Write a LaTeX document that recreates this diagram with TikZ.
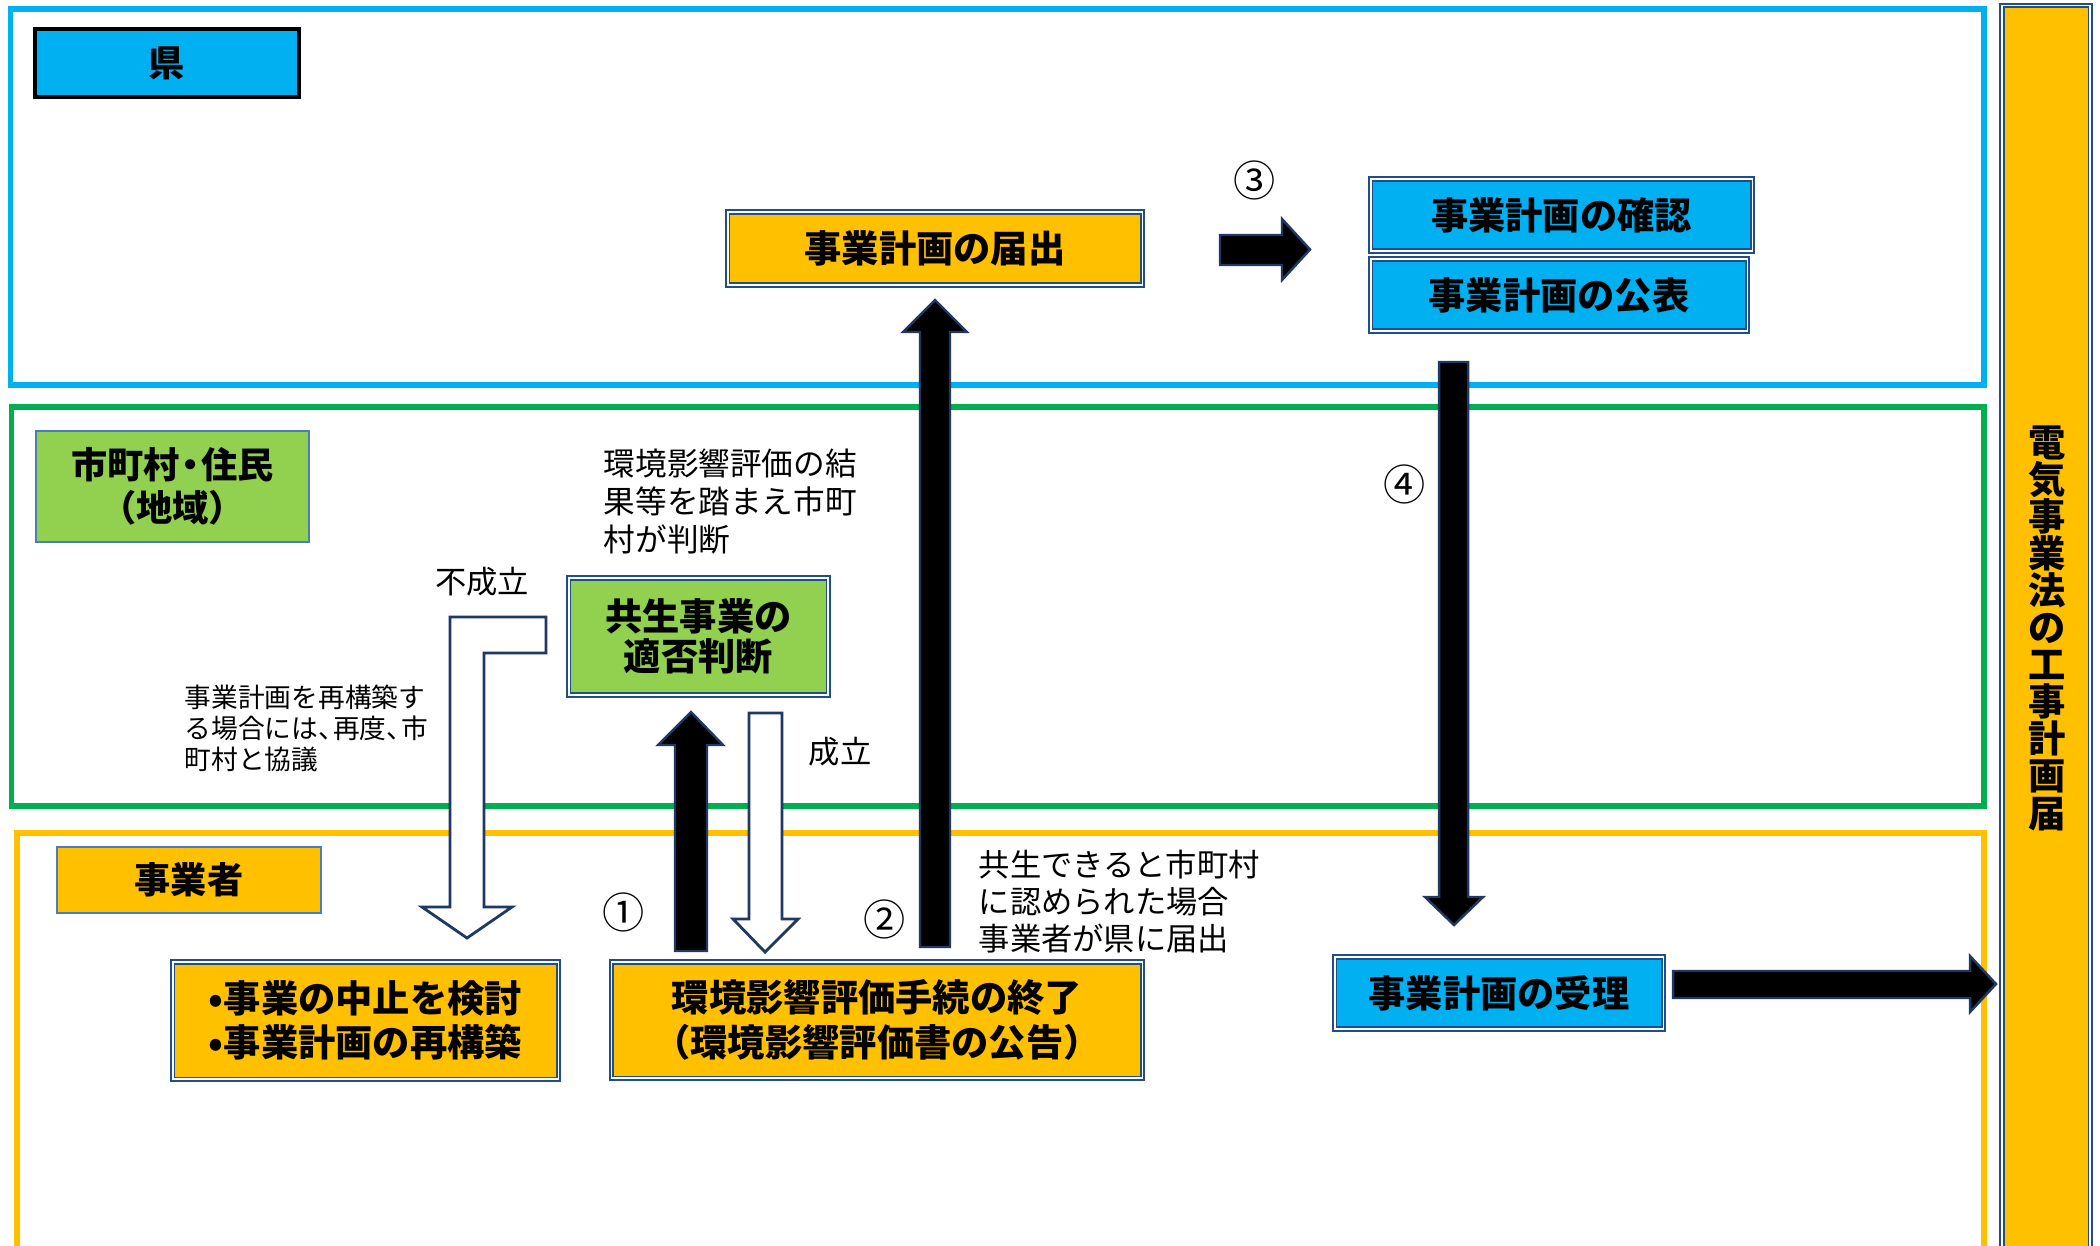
\documentclass[tikz,border=0pt]{standalone}
\usepackage{fontspec}
\setmainfont{Noto Sans CJK JP}
\newcommand\jfs[2]{\fontsize{#1}{#2}\selectfont}
\newcommand\nar[1]{\makebox[0.55em][l]{#1}}
\newcommand\narc[1]{\makebox[0.6em][c]{#1}}
\definecolor{cyanB}{HTML}{00B0F0}
\definecolor{orangeB}{HTML}{FFC000}
\definecolor{greenF}{HTML}{92D050}
\definecolor{greenL}{HTML}{00B050}
\definecolor{bdr}{HTML}{1F4E89}
\definecolor{navy}{HTML}{1F3864}
\definecolor{lblbdr}{HTML}{4A7EBB}
\begin{document}
\begin{tikzpicture}[x=0.01cm,y=-0.01cm,
  dbox/.style={draw=bdr, double=white, double distance=0.35pt, line width=0.55pt,
    inner sep=0pt, align=center, font=\bfseries\jfs{10.6}{13}},
  lbl/.style={draw=lblbdr, line width=0.6pt, inner sep=0pt, align=center,
    font=\bfseries\jfs{10.3}{12.2}},
  blk/.style={fill=black, draw=navy, line width=0.7pt, line join=miter},
  wht/.style={fill=white, draw=navy, line width=0.8pt, line join=miter},
  note/.style={inner sep=0pt, align=left},
  num/.style={inner sep=0pt, font=\jfs{12}{13}},
  frame/.style={line width=1.45pt}]
\path[use as bounding box] (0,0) rectangle (2100,1245);
\clip (0,0) rectangle (2100,1245);
\fill[white] (0,0) rectangle (2100,1245);

% lane frames
\draw[frame, draw=cyanB] (10.5,9) rectangle (1984,385);
\draw[frame, draw=greenL] (11.5,407) rectangle (1984,806);
\draw[frame, draw=orangeB] (17,833) rectangle (1984,1300);

% right vertical box
\node[dbox, fill=orangeB, minimum width=0.88cm, minimum height=12.6cm] (denki) at (2046,636) {};
\node[inner sep=0pt, align=center, font=\bfseries\jfs{10.6}{10.55}] (denkitxt) at (2047,628)
  {電\\気\\事\\業\\法\\の\\工\\事\\計\\画\\届};

% lane labels
\node[draw=black, line width=0.9pt, fill=cyanB, minimum width=2.64cm, minimum height=0.68cm,
  inner sep=0pt, font=\bfseries\jfs{10.3}{11}] (ken) at (167,63) {県};
\node[lbl, fill=greenF, minimum width=2.73cm, minimum height=1.11cm] (shi) at (172.5,486.5)
  {市町村\narc{・}住民\\（地域）};
\node[lbl, fill=orangeB, minimum width=2.64cm, minimum height=0.66cm] (jig) at (189,880) {事業者};

% process boxes
\node[dbox, fill=orangeB, minimum width=4.14cm, minimum height=0.73cm] (todoke) at (935,248.5) {事業計画の届出};
\node[dbox, fill=cyanB, minimum width=3.81cm, minimum height=0.72cm] (kakunin) at (1561.5,215) {事業計画の確認};
\node[dbox, fill=cyanB, minimum width=3.76cm, minimum height=0.72cm] (kohyo) at (1559,295) {事業計画の公表};
\node[dbox, fill=greenF, minimum width=2.59cm, minimum height=1.17cm, font=\bfseries\jfs{10.6}{11.4}] (kyosei) at (698.5,636.5) {共生事業の\\適否判断};
\node[dbox, fill=orangeB, minimum width=5.30cm, minimum height=1.16cm, font=\bfseries\jfs{10.6}{12.8}] (kankyo) at (877,1020) {環境影響評価手続の終了\\（環境影響評価書の公告）};
\node[dbox, fill=orangeB, minimum width=3.85cm, minimum height=1.17cm, align=left, font=\bfseries\jfs{10.6}{12.5}] (chushi) at (365.5,1020.5) {•事業の中止を検討\\•事業計画の再構築};
\node[dbox, fill=cyanB, minimum width=3.28cm, minimum height=0.72cm] (juri) at (1499,993) {事業計画の受理};

% block arrows
\draw[blk] (675,951) -- (675,745) -- (658,745) -- (691,712) -- (723,745) -- (707,745) -- (707,951) -- cycle;
\draw[wht] (749,713) -- (782,713) -- (782,919) -- (798,919) -- (765,952) -- (733,919) -- (749,919) -- cycle;
\draw[blk] (920,947) -- (920,332) -- (903,332) -- (935,300) -- (967,332) -- (950,332) -- (950,947) -- cycle;
\draw[blk] (1220,235) -- (1282,235) -- (1282,219) -- (1310,249.5) -- (1282,280) -- (1282,265) -- (1220,265) -- cycle;
\draw[blk] (1439,362) -- (1468,362) -- (1468,897) -- (1483,897) -- (1454,925) -- (1425,897) -- (1439,897) -- cycle;
\draw[blk] (1673,971) -- (1970,971) -- (1970,956) -- (1996,984) -- (1970,1012) -- (1970,998) -- (1673,998) -- cycle;
\draw[wht] (450,617) -- (546,617) -- (546,653) -- (484,653) -- (484,907) -- (512,907) -- (467,938) -- (422,907) -- (450,907) -- cycle;

% annotations
\node[note, anchor=west, font=\jfs{9}{10.7}] (n1) at (603,501.5) {環境影響評価の結\\果等を踏まえ市町\\村が判断};
\node[inner sep=0pt, font=\jfs{8.9}{10}] (fuseiritsu) at (482,582) {不成立};
\node[note, anchor=west, font=\jfs{7.6}{8.9}] (n2) at (184,728.5) {事業計画を再構築す\\る場合には\nar{、}再度\nar{、}市\\町村と協議};
\node[inner sep=0pt, font=\jfs{8.9}{10}] (seiritsu) at (840,752) {成立};
\node[note, anchor=west, font=\jfs{8.9}{10.5}] (n3) at (978,901.5) {共生できると市町村\\に認められた場合\\事業者が県に届出};

% step numbers
\node[num] (s1) at (624,912) {①};
\node[num] (s2) at (885,919) {②};
\node[num] (s3) at (1255,180) {③};
\node[num] (s4) at (1405,484) {④};
\end{tikzpicture}
\end{document}
